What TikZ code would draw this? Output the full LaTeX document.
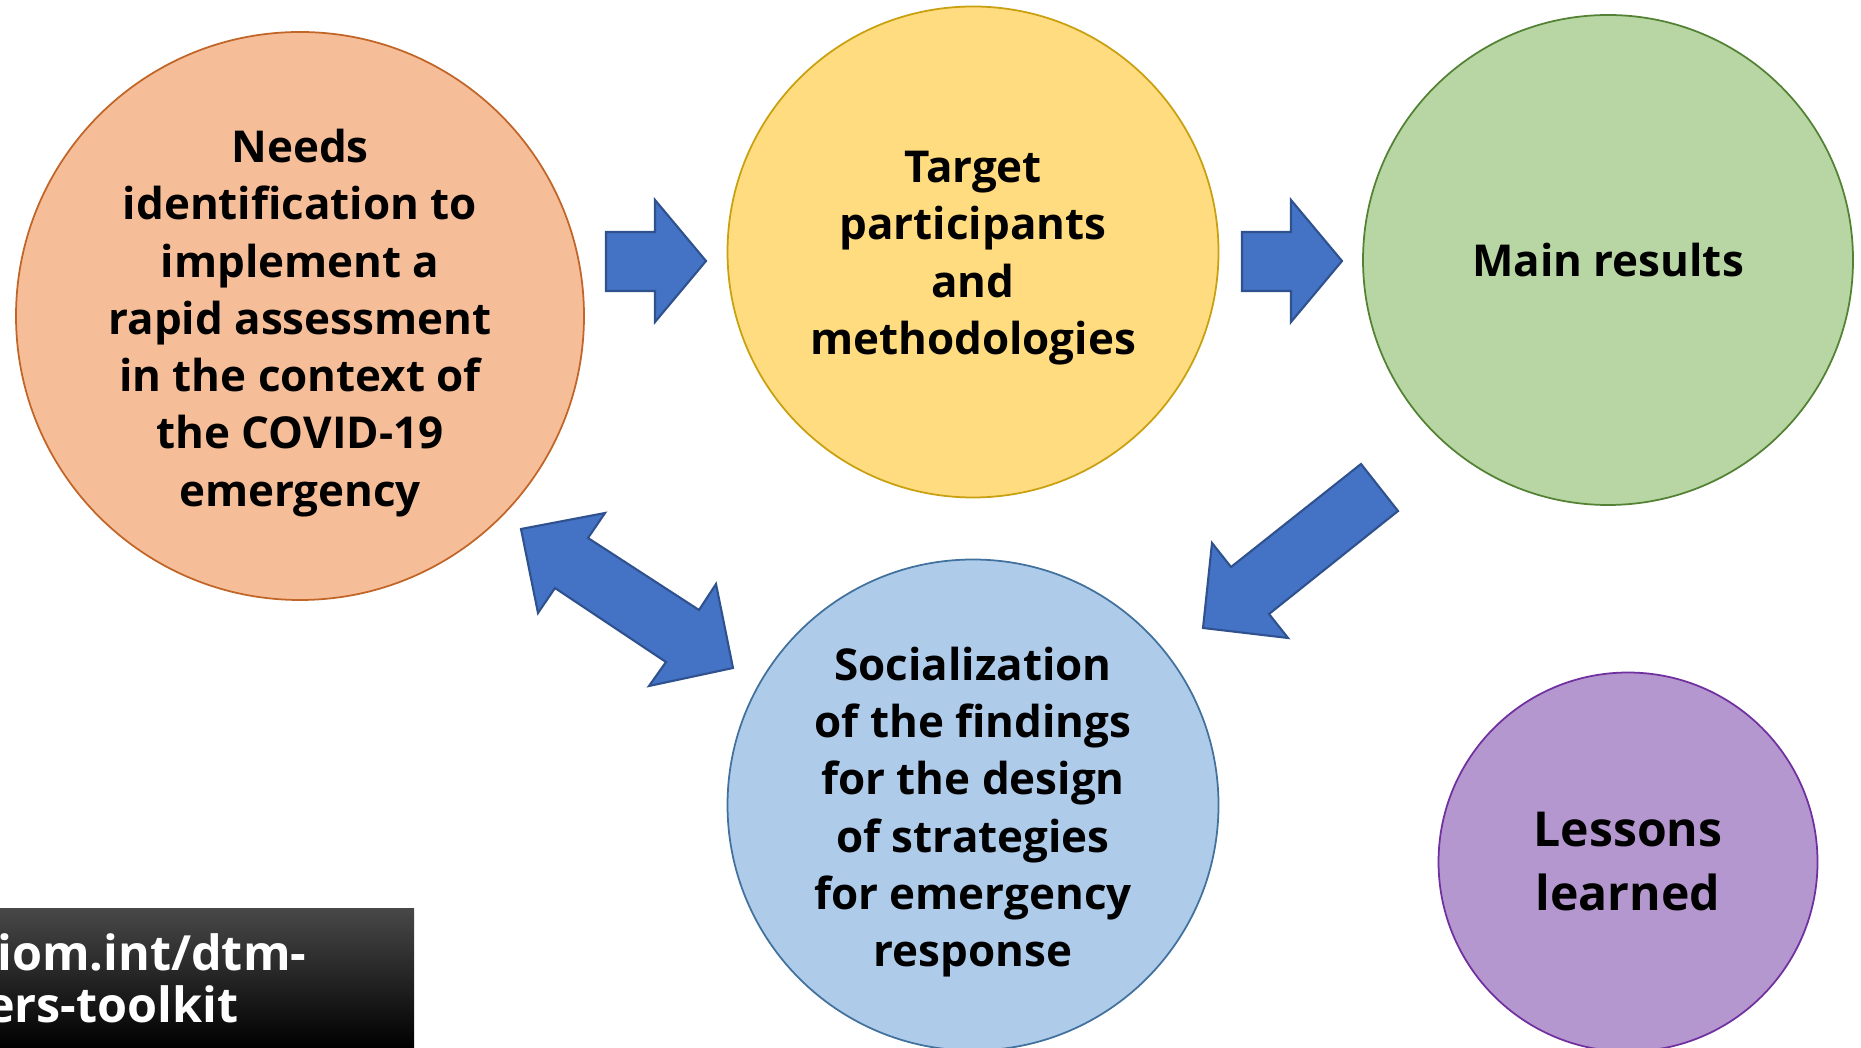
\documentclass[tikz,border=0pt]{standalone}
\usepackage{fontspec}
\setmainfont{Open Sans}
\usetikzlibrary{shapes.geometric}

\definecolor{needsfill}{HTML}{F5BE98}
\definecolor{needsedge}{HTML}{C26529}
\definecolor{targetfill}{HTML}{FFDC7F}
\definecolor{targetedge}{HTML}{C9A010}
\definecolor{resultsfill}{HTML}{B7D6A3}
\definecolor{resultsedge}{HTML}{548235}
\definecolor{socialfill}{HTML}{AECBEA}
\definecolor{socialedge}{HTML}{41719C}
\definecolor{lessonsfill}{HTML}{B497CE}
\definecolor{lessonsedge}{HTML}{7030A0}
\definecolor{arrowblue}{HTML}{4472C4}
\definecolor{arrowedge}{HTML}{2F528F}
\definecolor{boxgrey}{HTML}{484848}

\tikzset{
  bubble/.style={circle, inner sep=0pt, line width=0.5pt},
  bubbletext/.style={inner sep=0pt, align=center,
    font=\bfseries\fontsize{12.5pt}{16.3pt}\selectfont},
  blockarrow/.style={fill=arrowblue, draw=arrowedge, line width=0.6pt, line join=miter},
  urltext/.style={text=white, inner sep=0pt, anchor=base east,
    font=\bfseries\fontsize{13.8pt}{14.7pt}\selectfont}
}

\begin{document}
\begin{tikzpicture}[x=0.1mm, y=-0.1mm]
			%%%%% START %%%%%
			\clip (0,0) rectangle (1861,1048);
			
			\node[bubble, draw=needsedge, fill=needsfill, minimum size=56.8mm] (needs) at (300,316) {};
			\node[bubbletext] (needstext) at ([yshift=-0.7mm]needs.center)
				{Needs\\identification to\\implement a\\rapid assessment\\in the context of\\the COVID-19\\emergency};
			
			\node[bubble, draw=targetedge, fill=targetfill, minimum size=49.1mm] (target) at (973,252) {};
			\node[bubbletext] (targettext) at ([yshift=-0.6mm]target.center)
				{Target\\participants\\and\\methodologies};
			
			\node[bubble, draw=resultsedge, fill=resultsfill, minimum size=49.0mm] (results) at (1608,260) {};
			\node[bubbletext] (resultstext) at (results.center) {Main results};
			
			\node[bubble, draw=socialedge, fill=socialfill, minimum size=49.1mm] (social) at (973,805) {};
			\node[bubbletext] (socialtext) at ([yshift=-0.7mm]social.center)
				{Socialization\\of the findings\\for the design\\of strategies\\for emergency\\response};
			
			\node[bubble, draw=lessonsedge, fill=lessonsfill, minimum size=37.9mm] (lessons) at (1628,862) {};
			\node[bubbletext, font=\bfseries\fontsize{13.7pt}{18.2pt}\selectfont] (lessonstext) at (lessons.center)
				{Lessons\\learned};
			
			%%%%% ARROWS %%%%%
			\draw[blockarrow] (606,232) -- (655,232) -- (655,200) -- (706,261)
				-- (655,322) -- (655,291) -- (606,291) -- cycle;
			\draw[blockarrow] (1242,232) -- (1291,232) -- (1291,200) -- (1342,261)
				-- (1291,322) -- (1291,291) -- (1242,291) -- cycle;
			\draw[blockarrow] (1361,464) -- (1398,511) -- (1269,614) -- (1288,638)
				-- (1203,628) -- (1212,543) -- (1231,567) -- cycle;
			\draw[blockarrow] (521,529) -- (605,513) -- (588,538) -- (699,610) -- (716,584)
				-- (733,668) -- (649,686) -- (666,662) -- (555,588) -- (538,613) -- cycle;
			
			%%%%% LINK BOX %%%%%
			\shade[top color=boxgrey, middle color=black, bottom color=black] (0,908) rectangle (414,1048);
			\node[urltext] (urltop) at (307,970) {iom.int/dtm-};
			\node[urltext] (urlbottom) at (239,1022) {ers-toolkit};
			
			%%%%% END %%%%%
\end{tikzpicture}
\end{document}
